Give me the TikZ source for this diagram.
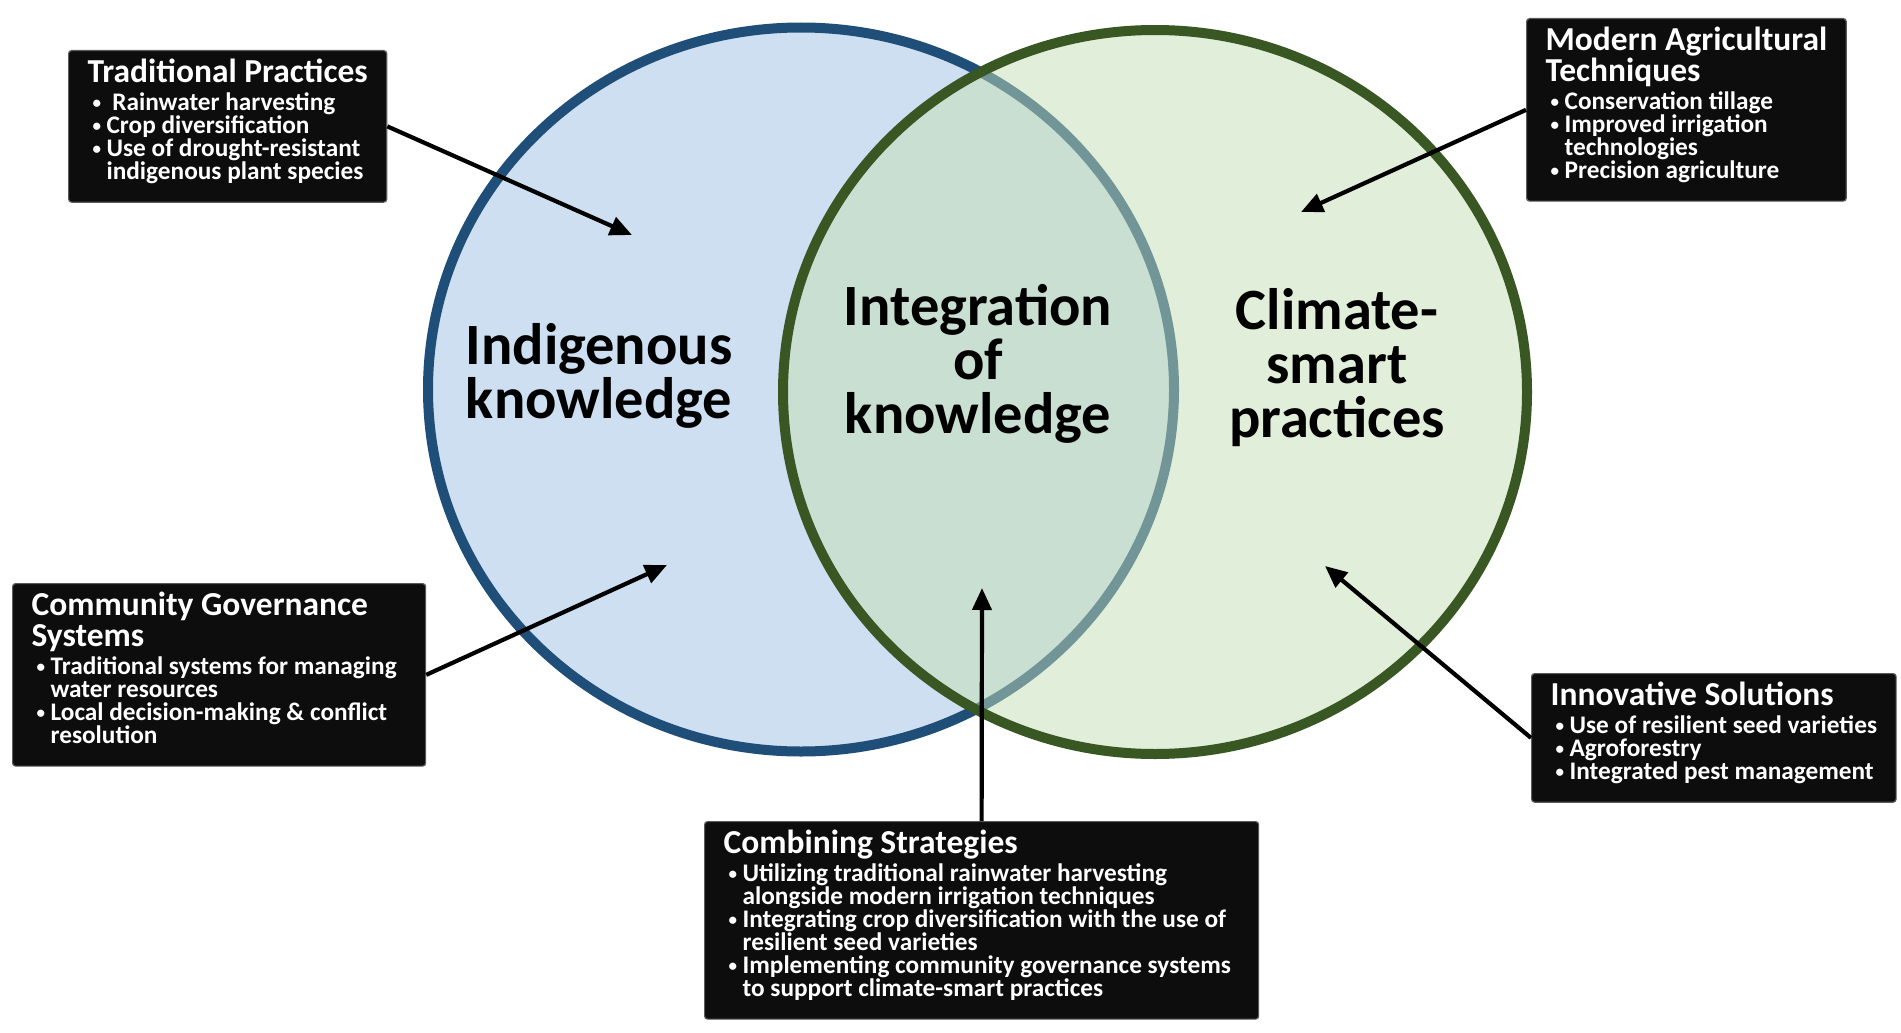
\documentclass[tikz,border=0pt]{standalone}
\usepackage{fontspec}
\setmainfont{Carlito}
\usetikzlibrary{arrows.meta,positioning}
\definecolor{IKBlue}{HTML}{1F4E79}
\definecolor{IKFill}{HTML}{CDDFF1}
\definecolor{CSGreen}{HTML}{385723}
\definecolor{CSFill}{HTML}{C5DFB5}
\definecolor{BoxBlack}{HTML}{0D0D0D}
\definecolor{BoxEdge}{HTML}{5A5A5A}
\newcommand{\tightlines}{\lineskiplimit=-100pt\relax}
\newcommand{\boxtitle}[1]{{\fontsize{33.5}{23}\selectfont #1}}
\newcommand{\bul}{\makebox[19pt][l]{\hspace{5pt}\raisebox{1.5pt}{\fontsize{17}{17}\selectfont\textbullet}}}
\newcommand{\hang}{\hspace*{19pt}}
\newcommand{\boxend}[1][0pt]{\\[-8pt]\rule{#1}{0pt}}

\begin{document}
\begin{tikzpicture}[x=1pt,y=-1pt,
  infobox/.style={draw=BoxEdge,line width=1.2pt,fill=BoxBlack,rounded corners=3pt,
    text=white,align=left,anchor=north west,inner xsep=19pt,inner ysep=8pt,
    font=\fontsize{25.3}{23}\selectfont\bfseries\tightlines},
  biglabel/.style={align=center,font=\fontsize{58.5}{54}\selectfont\bfseries\tightlines},
  pointer/.style={-{Triangle[length=22pt,width=19pt]},line width=4.2pt,black}]
\fill[white] (0,0) rectangle (1901,1033);
\useasboundingbox (0,0) rectangle (1901,1033);

% Venn circles
\draw[IKBlue,line width=10pt,fill=IKFill] (801,389.5) ellipse [x radius=373pt,y radius=362pt];
\draw[CSGreen,line width=10pt,fill=CSFill,fill opacity=.5] (1155,392) ellipse [x radius=372pt,y radius=362pt];

\node[biglabel] (lblIndig) at (599,376) {Indigenous\\knowledge};
\node[biglabel] (lblInteg) at (978,364) {Integration\\of\\knowledge};
\node[biglabel] (lblClimate) at (1337,368) {Climate-\\smart\\practices};

% Info boxes
\node[infobox] (boxTrad) at (68,50) {\boxtitle{Traditional Practices}\\[5pt]
  \bul\ Rainwater harvesting\\
  \bul Crop diversification\\
  \bul Use of drought-resistant\\
  \hang indigenous plant species\boxend};

\node[infobox] (boxModern) at (1526,18) {\boxtitle{Modern Agricultural}\\[8pt]
  \boxtitle{Techniques}\\[5pt]
  \bul Conservation tillage\\
  \bul Improved irrigation\\
  \hang technologies\\
  \bul Precision agriculture\boxend};

\node[infobox] (boxComm) at (12,583) {\boxtitle{Community Governance}\\[8pt]
  \boxtitle{Systems}\\[5pt]
  \bul Traditional systems for managing\\
  \hang water resources\\
  \bul Local decision-making \& conflict\\
  \hang resolution\boxend[375pt]};

\node[infobox] (boxInnov) at (1531,673) {\boxtitle{Innovative Solutions}\\[5pt]
  \bul Use of resilient seed varieties\\
  \bul Agroforestry\\
  \bul Integrated pest management\boxend};

\node[infobox] (boxComb) at (704,821) {\boxtitle{Combining Strategies}\\[5pt]
  \bul Utilizing traditional rainwater harvesting\\
  \hang alongside modern irrigation techniques\\
  \bul Integrating crop diversification with the use of\\
  \hang resilient seed varieties\\
  \bul Implementing community governance systems\\
  \hang to support climate-smart practices\boxend[516pt]};

% Pointers
\coordinate (tipTrad) at (632,235);
\coordinate (tipModern) at (1301,212);
\coordinate (tipComm) at (667,565);
\coordinate (tipInnov) at (1325,566);
\coordinate (tipComb) at (982,588);
\draw[pointer] (boxTrad.east) -- (tipTrad);
\draw[pointer] (boxModern.west) -- (tipModern);
\draw[pointer] (boxComm.east) -- (tipComm);
\draw[pointer] (boxInnov.west) -- (tipInnov);
\draw[pointer] (boxComb.north) -- (tipComb);
\end{tikzpicture}
\end{document}
